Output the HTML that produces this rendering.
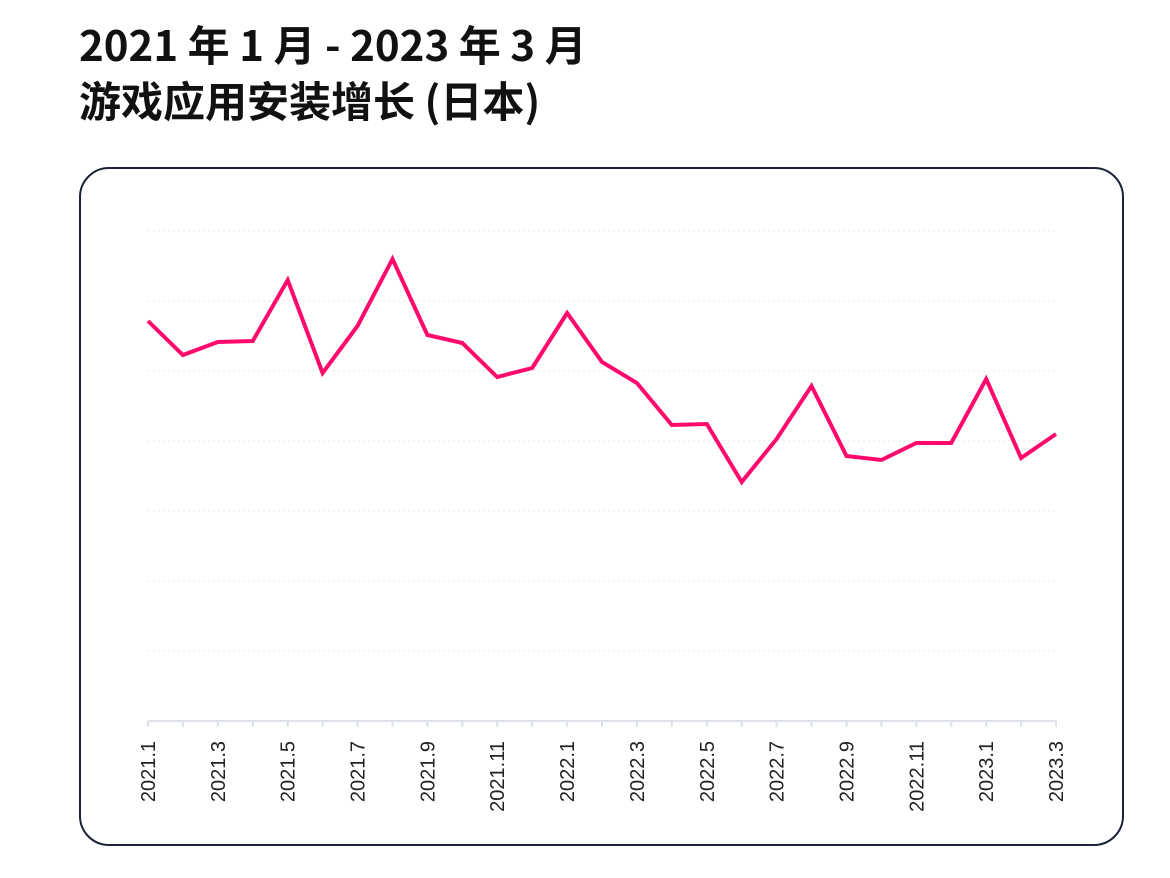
<!DOCTYPE html>
<html><head><meta charset="utf-8"><style>
body{margin:0;background:#fff;width:1170px;height:878px;overflow:hidden;font-family:"Liberation Sans","Noto Sans CJK SC",sans-serif}
.t{position:absolute;left:79px;font-weight:bold;font-size:42px;color:#111;line-height:56px;top:16px;white-space:nowrap;font-family:"Noto Sans CJK SC","Liberation Sans",sans-serif}
.box{position:absolute;left:79px;top:167px;width:1041px;height:675px;border:2px solid #1a2236;border-radius:30px}
svg{position:absolute;left:0;top:0}
</style></head><body>
<div class="t">2021 年 1 月 - 2023 年 3 月<br>游戏应用安装增长 (日本)</div>
<div class="box"></div>
<svg width="1170" height="878">
<g stroke="#e4e6ea" stroke-dasharray="2,3" stroke-width="1">
<line x1="148" x2="1058" y1="231" y2="231"/><line x1="148" x2="1058" y1="301" y2="301"/><line x1="148" x2="1058" y1="371" y2="371"/><line x1="148" x2="1058" y1="441" y2="441"/><line x1="148" x2="1058" y1="511" y2="511"/><line x1="148" x2="1058" y1="581" y2="581"/><line x1="148" x2="1058" y1="651" y2="651"/>
</g>
<line x1="148" x2="1057" y1="721" y2="721" stroke="#dde2ea" stroke-width="2"/>
<g id="ticks" stroke="#dde2ea" stroke-width="2"></g>
<g id="labs" font-family="Liberation Sans, sans-serif" font-size="20" fill="#222"></g>
<polyline id="ln" fill="none" stroke="#ff0a6c" stroke-width="4" stroke-linejoin="miter"/>
</svg>
<script>
var ys=[321,355,342,341,280,373,326,259,335,343,377,368,313,362,383,425,424,482,439,386,456,460,443,443,379,458,434];
var pts=[],t='',l='';
for(var i=0;i<27;i++){var x=148+i*(908/26);pts.push(x.toFixed(1)+','+ys[i]);
t+='<line x1="'+x+'" x2="'+x+'" y1="721" y2="727"/>';
if(i%2==0){var y=2021+Math.floor(i/12),m=i%12+1;
l+='<text transform="translate('+(x+7)+',741) rotate(-90)" text-anchor="end">'+y+'.'+m+'</text>';}}
document.getElementById('ln').setAttribute('points',pts.join(' '));
document.getElementById('ticks').innerHTML=t;document.getElementById('labs').innerHTML=l;
</script>
</body></html>
